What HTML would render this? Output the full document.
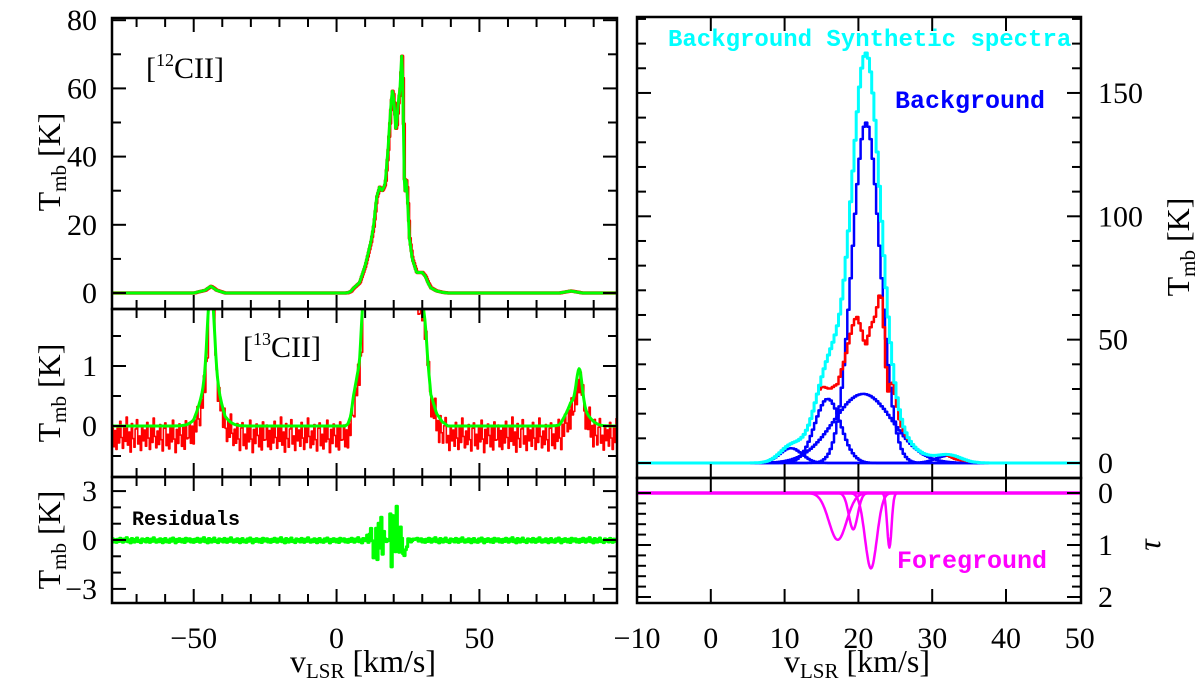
<!DOCTYPE html>
<html><head><meta charset="utf-8"><style>
body{margin:0;background:#fff;width:1200px;height:699px;overflow:hidden}
svg{display:block}
text{font-family:"Liberation Serif",serif;fill:#000}
.mono{font-family:"Liberation Mono",monospace;font-weight:bold}
</style></head><body>
<svg id="fig" width="1200" height="699" viewBox="0 0 1200 699" xmlns="http://www.w3.org/2000/svg">
<defs>
<clipPath id="cA"><rect x="112" y="18" width="505" height="291"/></clipPath>
<clipPath id="cB"><rect x="112" y="309" width="505" height="168"/></clipPath>
<clipPath id="cC"><rect x="112" y="477" width="505" height="126"/></clipPath>
<clipPath id="cD"><rect x="637" y="17" width="444" height="461"/></clipPath>
<clipPath id="cE"><rect x="637" y="478" width="444" height="125"/></clipPath>
</defs>
<g id="marks"></g>
<g id="axes"></g>
<text x="146" y="78" font-size="30">[<tspan font-size="18" dy="-12">12</tspan><tspan dy="12">CII]</tspan></text>
<text x="243" y="357" font-size="30">[<tspan font-size="18" dy="-12">13</tspan><tspan dy="12">CII]</tspan></text>
<text class="mono" x="132" y="525" font-size="20">Residuals</text>
<text class="mono" x="668" y="46" font-size="24" style="fill:#00ffff">Background Synthetic spectra</text>
<text class="mono" x="895" y="108" font-size="25" style="fill:#0000ff">Background</text>
<text class="mono" x="897" y="568" font-size="25" style="fill:#ff00ff">Foreground</text>
<g font-size="32">
<text transform="translate(60,162) rotate(-90)" text-anchor="middle">T<tspan font-size="21" dy="6">mb</tspan><tspan dy="-6">  [K]</tspan></text>
<text transform="translate(60,393) rotate(-90)" text-anchor="middle">T<tspan font-size="21" dy="6">mb</tspan><tspan dy="-6">  [K]</tspan></text>
<text transform="translate(60,540) rotate(-90)" text-anchor="middle">T<tspan font-size="21" dy="6">mb</tspan><tspan dy="-6">  [K]</tspan></text>
<text transform="translate(1189,247) rotate(-90)" text-anchor="middle">T<tspan font-size="21" dy="6">mb</tspan><tspan dy="-6">  [K]</tspan></text>
<text transform="translate(1160,545) rotate(-90)" text-anchor="middle" font-style="italic">τ</text>
<text x="363" y="672" text-anchor="middle">v<tspan font-size="21" dy="6">LSR</tspan><tspan dy="-6"> [km/s]</tspan></text>
<text x="857" y="672" text-anchor="middle">v<tspan font-size="21" dy="6">LSR</tspan><tspan dy="-6"> [km/s]</tspan></text>
</g>
</svg>
<script>
// ---- data ----
const v12 = [-79,-50,-46,-44,-42,-39,3,4,5,6,8,10,12,13,14,15,16,17,18,19,19.6,20.2,20.8,21.5,22.2,22.9,23.3,23.8,24.4,24.8,25.5,26.5,28,30,31,32,33,35,37,39,78,82,86,98];
const t12 = [0,0,0.8,2,0.8,0,0,0.1,0.5,1.5,3,8,15,20,28,31,30,32,42,55,60,55,47,55,60,71,55,28,34,28,16,10,6,6,5,3,1.5,0.6,0.2,0,0,0.6,0,0];
const g13Amp = [1.3,0.45,0.6,0.3];
const g13Cen = [-44,-44,85,85];
const g13Sig = [1.2,3.5,1.0,3.0];
const scale13 = 0.35;
const noise13 = [-0.12,0.15,-0.25,0.05,-0.3,0.1,-0.18,0.22,-0.08,-0.28,0.12,-0.15,0.3,-0.22,0.02,-0.35,0.18,-0.1,-0.26,0.08,0.25,-0.2,-0.05,-0.32,0.14,-0.14,0.06,-0.24,0.2,-0.09,-0.3,0.11,-0.17,0.28,-0.06,-0.27,0.04,-0.21,0.16,-0.12,-0.33,0.09,0.19,-0.23,-0.02,-0.29,0.13,-0.16,0.24,-0.11,-0.36,0.07,-0.19,0.17,-0.04,-0.25,0.1,-0.31,0.21,-0.13];
const resCore = [0,0.3,-0.2,0.5,0.8,-0.6,-1.6,1.8,-1.8,1.2,-0.5,1.6,-1.5,1.4,-0.8,0.6,-1.0,2.5,-2.0,1.5,-0.4,-0.8,3.3,-2.5,1.0,0.5,-0.8,-1.0,-0.6,-0.4,0.2,0,-0.2,0.1,0,0.1,0];
const bgAmp = [138,28,26,6,3];
const bgCen = [20.9,20.5,15.7,10.7,32.1];
const bgSig = [1.9,4.0,1.75,1.5,1.7];
const fgDepth = [0.9,0.7,1.45,1.05];
const fgCen = [17.2,19.3,21.7,24.2];
const fgSig = [1.2,0.6,0.8,0.3];

// ---- scales ----
const xL = v => 112 + (v + 78.6) * 2.857;
const yA = t => 293 - t * 3.41;
const yB = t => 426 - t * 60;
const yC = t => 540 - t * 16.3;
const xR = v => 637 + (v + 10) * 7.38;
const yD = t => 463 - t * 2.467;
const yE = t => 493 + t * 52;

const NS = "http://www.w3.org/2000/svg";
const marks = document.getElementById('marks');
const axes = document.getElementById('axes');
function interp(xs, ys, v){ if(v<=xs[0])return ys[0]; for(let i=1;i<xs.length;i++){ if(v<=xs[i]){const f=(v-xs[i-1])/(xs[i]-xs[i-1]);return ys[i-1]+f*(ys[i]-ys[i-1]);}} return ys[ys.length-1]; }
function gauss(a,c,s,v){ return a*Math.exp(-(v-c)*(v-c)/(2*s*s)); }
function path(d, color, w, clip, name){
  const p = document.createElementNS(NS,'path');
  p.setAttribute('d', d); p.setAttribute('fill','none'); p.setAttribute('stroke',color);
  p.setAttribute('stroke-width',w); p.setAttribute('stroke-linejoin','round');
  if(clip) p.setAttribute('clip-path','url(#'+clip+')');
  
  
  marks.appendChild(p); return p;
}
function poly(fn, v0, v1, step, xs, ys, stepped){
  let d=''; let prev=null;
  for(let v=v0; v<=v1+1e-9; v+=step){ const X=xs(v), Y=ys(fn(v));
    if(prev===null) d+='M'+X.toFixed(1)+' '+Y.toFixed(1);
    else { if(stepped) d+=' L'+X.toFixed(1)+' '+prev.toFixed(1); d+=' L'+X.toFixed(1)+' '+Y.toFixed(1); }
    prev=Y; }
  return d;
}
const t12f = v => interp(v12, t12, v);
const fit13 = v => { let s = scale13 * t12f(v); for(let i=0;i<g13Amp.length;i++) s += gauss(g13Amp[i],g13Cen[i],g13Sig[i],v); return s; };
const obs13 = v => { const i = Math.abs(Math.round((v+79)/0.45)) % noise13.length; return fit13(v) + noise13[i]*0.9 - 0.12; };
const resid = v => { if(v>=10 && v<=28){ return interp(resCore.map((_,i)=>10+i*0.5), resCore, v); } const i=Math.abs(Math.round((v+79)/0.45))%noise13.length; return noise13[i]*0.5; };
const bgSum = v => { let s=0; for(let i=0;i<bgAmp.length;i++) s+=gauss(bgAmp[i],bgCen[i],bgSig[i],v); return s; };

// top-left
path(poly(t12f,-78.6,98,0.3,xL,yA,true),'#ff0000',3.5,'cA','obs-12cii-line');
path(poly(t12f,-78.6,98,0.3,xL,yA,false),'#00ff00',3,'cA','fit-12cii-line');
// mid-left
path(poly(obs13,-78.6,98,0.45,xL,yB,true),'#ff0000',1.6,'cB','obs-13cii-line');
path(poly(fit13,-78.6,98,0.3,xL,yB,false),'#00ff00',3,'cB','fit-13cii-line');
// bottom-left
path(poly(resid,-78.6,98,0.45,xL,yC,true),'#00ff00',3,'cC','residuals-line');
// right top
for(let i=0;i<bgAmp.length;i++){
  path(poly(v=>gauss(bgAmp[i],bgCen[i],bgSig[i],v),-10,50,0.3,xR,yD,true),'#0000ff',2.5,'cD','background-component-'+(i+1));
}
path(poly(v=>Math.min(t12f(v),bgSum(v)),-10,50,0.3,xR,yD,true),'#ff0000',2.5,'cD','observed-12cii-right');
path(poly(bgSum,-10,50,0.3,xR,yD,true),'#00ffff',3,'cD','synthetic-spectrum-line');
// right bottom tau
for(let i=0;i<fgDepth.length;i++){
  path(poly(v=>gauss(fgDepth[i],fgCen[i],fgSig[i],v),-10,50,0.1,xR,yE,false),'#ff00ff',2.5,'cE','foreground-component-'+(i+1));
}
path('M637 '+yE(0)+' L1081 '+yE(0),'#ff00ff',3.5,'cE','foreground-baseline');

// ---- axes ----
function line(x1,y1,x2,y2,w){ const l=document.createElementNS(NS,'line'); l.setAttribute('x1',x1);l.setAttribute('y1',y1);l.setAttribute('x2',x2);l.setAttribute('y2',y2);l.setAttribute('stroke','#000');l.setAttribute('stroke-width',w||2); axes.appendChild(l); }
function label(x,y,s,anchor,name){ const t=document.createElementNS(NS,'text'); t.setAttribute('x',x);t.setAttribute('y',y);t.setAttribute('font-size','30');t.setAttribute('text-anchor',anchor);t.textContent=s;
  
  
  axes.appendChild(t); }
function frame(x0,y0,x1,y1,name){ const r=document.createElementNS(NS,'rect'); r.setAttribute('x',x0);r.setAttribute('y',y0);r.setAttribute('width',x1-x0);r.setAttribute('height',y1-y0);r.setAttribute('fill','none');r.setAttribute('stroke','#000');r.setAttribute('stroke-width','2.5');
  
  
  axes.appendChild(r); }
function xticks(xs,x0,x1,y0,y1,vals,majorFn){ vals.forEach(v=>{ const X=xs(v); const L=majorFn(v)?14:9; line(X,y0,X,y0+L); line(X,y1,X,y1-L); }); }
function yticks(ys,x0,x1,vals,majorFn){ vals.forEach(v=>{ const Y=ys(v); const L=majorFn(v)?14:9; line(x0,Y,x0+L,Y); line(x1,Y,x1-L,Y); }); }
const rng=(a,b,s)=>{const r=[];for(let v=a;v<=b+1e-9;v+=s)r.push(Math.round(v*100)/100);return r;};
const lxt = rng(-70,90,10), lmaj = v=>v%50===0;
[[18,309],[309,477],[477,603]].forEach(([a,b],i)=>{ frame(112,a,617,b,'left-panel-frame-'+(i+1)); xticks(xL,112,617,a,b,lxt,lmaj); });
yticks(yA,112,617,rng(0,80,10),v=>v%20===0);
yticks(yB,112,617,rng(-0.5,1.5,0.5),v=>v%1===0);
yticks(yC,112,617,rng(-3,3,1),v=>v%3===0);
frame(637,17,1081,478,'right-top-frame'); frame(637,478,1081,603,'right-bottom-frame');
xticks(xR,637,1081,17,478,rng(0,40,10),()=>true);
xticks(xR,637,1081,478,603,rng(0,40,10),()=>true);
yticks(yD,637,1081,rng(0,180,10),v=>v%50===0);
yticks(yE,637,1081,rng(0,2,0.2),v=>Math.abs(v-Math.round(v))<1e-6);
// tick labels
[0,20,40,60,80].forEach(v=>label(97,yA(v)+10,String(v),'end','ytick-top-'+v));
[0,1].forEach(v=>label(97,yB(v)+10,String(v),'end','ytick-mid-'+v));
[-3,0,3].forEach(v=>label(97,yC(v)+10,String(v).replace('-','−'),'end','ytick-bot-'+v));
[-50,0,50].forEach(v=>label(xL(v),648,String(v).replace('-','−'),'middle','xtick-left-'+v));
[-10,0,10,20,30,40,50].forEach(v=>label(xR(v),648,String(v).replace('-','−'),'middle','xtick-right-'+v));
[0,50,100,150].forEach(v=>label(1098,yD(v)+10,String(v),'start','ytick-right-'+v));
[0,1,2].forEach(v=>label(1098,yE(v)+10,String(v),'start','ytick-tau-'+v));
</script>
</body></html>
